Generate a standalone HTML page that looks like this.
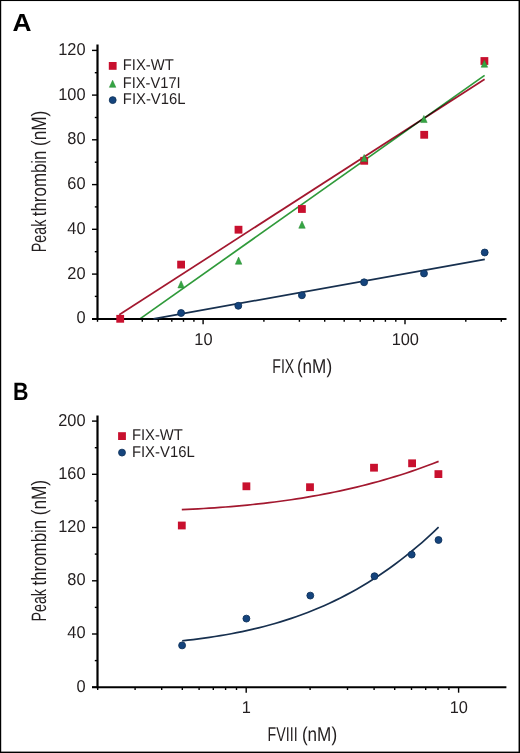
<!DOCTYPE html><html><head><meta charset="utf-8"><style>html,body{margin:0;padding:0;background:#fff}svg{display:block;text-rendering:geometricPrecision;font-family:"Liberation Sans",sans-serif}</style></head><body>
<svg width="520" height="753" viewBox="0 0 520 753" font-family="Liberation Sans, sans-serif">
<rect x="0" y="0" width="520" height="753" fill="#fff"/>
<rect x="0" y="0" width="520" height="1.05" fill="#000"/>
<rect x="0" y="0" width="1.2" height="753" fill="#000"/>
<rect x="518.55" y="0" width="1.45" height="753" fill="#000"/>
<rect x="0" y="751.6" width="520" height="1.4" fill="#000"/>
<text x="12.4" y="30.9" font-size="24.8" font-weight="bold" fill="#000" textLength="19" lengthAdjust="spacingAndGlyphs">A</text>
<line x1="97.5" y1="44.5" x2="97.5" y2="319.8" stroke="#000" stroke-width="2.2"/>
<line x1="92" y1="318.9" x2="506.5" y2="318.9" stroke="#000" stroke-width="2"/>
<line x1="92" y1="318.8" x2="97.5" y2="318.8" stroke="#000" stroke-width="1.4"/>
<text x="85.5" y="323.2" font-size="17.2" fill="#231f20" text-anchor="end" textLength="9.11" lengthAdjust="spacingAndGlyphs">0</text>
<line x1="92" y1="274.1" x2="97.5" y2="274.1" stroke="#000" stroke-width="1.4"/>
<text x="85.5" y="278.5" font-size="17.2" fill="#231f20" text-anchor="end" textLength="18.23" lengthAdjust="spacingAndGlyphs">20</text>
<line x1="92" y1="229.3" x2="97.5" y2="229.3" stroke="#000" stroke-width="1.4"/>
<text x="85.5" y="233.7" font-size="17.2" fill="#231f20" text-anchor="end" textLength="18.23" lengthAdjust="spacingAndGlyphs">40</text>
<line x1="92" y1="184.6" x2="97.5" y2="184.6" stroke="#000" stroke-width="1.4"/>
<text x="85.5" y="189.0" font-size="17.2" fill="#231f20" text-anchor="end" textLength="18.23" lengthAdjust="spacingAndGlyphs">60</text>
<line x1="92" y1="139.8" x2="97.5" y2="139.8" stroke="#000" stroke-width="1.4"/>
<text x="85.5" y="144.2" font-size="17.2" fill="#231f20" text-anchor="end" textLength="18.23" lengthAdjust="spacingAndGlyphs">80</text>
<line x1="92" y1="95.1" x2="97.5" y2="95.1" stroke="#000" stroke-width="1.4"/>
<text x="85.5" y="99.5" font-size="17.2" fill="#231f20" text-anchor="end" textLength="27.34" lengthAdjust="spacingAndGlyphs">100</text>
<line x1="92" y1="50.4" x2="97.5" y2="50.4" stroke="#000" stroke-width="1.4"/>
<text x="85.5" y="54.8" font-size="17.2" fill="#231f20" text-anchor="end" textLength="27.34" lengthAdjust="spacingAndGlyphs">120</text>
<line x1="94.8" y1="296.4" x2="97.5" y2="296.4" stroke="#000" stroke-width="1.4"/>
<line x1="94.8" y1="251.7" x2="97.5" y2="251.7" stroke="#000" stroke-width="1.4"/>
<line x1="94.8" y1="206.9" x2="97.5" y2="206.9" stroke="#000" stroke-width="1.4"/>
<line x1="94.8" y1="162.2" x2="97.5" y2="162.2" stroke="#000" stroke-width="1.4"/>
<line x1="94.8" y1="117.5" x2="97.5" y2="117.5" stroke="#000" stroke-width="1.4"/>
<line x1="94.8" y1="72.7" x2="97.5" y2="72.7" stroke="#000" stroke-width="1.4"/>
<line x1="203.1" y1="318.9" x2="203.1" y2="324.3" stroke="#000" stroke-width="1.4"/>
<text x="203.4" y="345.0" font-size="17.2" fill="#231f20" text-anchor="middle" textLength="18.23" lengthAdjust="spacingAndGlyphs">10</text>
<line x1="405.0" y1="318.9" x2="405.0" y2="324.3" stroke="#000" stroke-width="1.4"/>
<text x="405.3" y="345.0" font-size="17.2" fill="#231f20" text-anchor="middle" textLength="27.34" lengthAdjust="spacingAndGlyphs">100</text>
<line x1="97.5" y1="318.9" x2="97.5" y2="321.8" stroke="#000" stroke-width="1.4"/>
<line x1="122.8" y1="318.9" x2="122.8" y2="321.8" stroke="#000" stroke-width="1.4"/>
<line x1="142.3" y1="318.9" x2="142.3" y2="321.8" stroke="#000" stroke-width="1.4"/>
<line x1="158.3" y1="318.9" x2="158.3" y2="321.8" stroke="#000" stroke-width="1.4"/>
<line x1="171.8" y1="318.9" x2="171.8" y2="321.8" stroke="#000" stroke-width="1.4"/>
<line x1="183.5" y1="318.9" x2="183.5" y2="321.8" stroke="#000" stroke-width="1.4"/>
<line x1="193.9" y1="318.9" x2="193.9" y2="321.8" stroke="#000" stroke-width="1.4"/>
<line x1="263.9" y1="318.9" x2="263.9" y2="321.8" stroke="#000" stroke-width="1.4"/>
<line x1="299.4" y1="318.9" x2="299.4" y2="321.8" stroke="#000" stroke-width="1.4"/>
<line x1="324.7" y1="318.9" x2="324.7" y2="321.8" stroke="#000" stroke-width="1.4"/>
<line x1="344.2" y1="318.9" x2="344.2" y2="321.8" stroke="#000" stroke-width="1.4"/>
<line x1="360.2" y1="318.9" x2="360.2" y2="321.8" stroke="#000" stroke-width="1.4"/>
<line x1="373.7" y1="318.9" x2="373.7" y2="321.8" stroke="#000" stroke-width="1.4"/>
<line x1="385.4" y1="318.9" x2="385.4" y2="321.8" stroke="#000" stroke-width="1.4"/>
<line x1="395.8" y1="318.9" x2="395.8" y2="321.8" stroke="#000" stroke-width="1.4"/>
<line x1="465.8" y1="318.9" x2="465.8" y2="321.8" stroke="#000" stroke-width="1.4"/>
<line x1="501.3" y1="318.9" x2="501.3" y2="321.8" stroke="#000" stroke-width="1.4"/>
<line x1="119.2" y1="314.8" x2="484.6" y2="79.2" stroke="#a3182f" stroke-width="1.7"/>
<line x1="140.3" y1="318.6" x2="484.6" y2="75.4" stroke="#2f9a3a" stroke-width="1.7" style="mix-blend-mode:multiply"/>
<line x1="153.5" y1="318.8" x2="484.8" y2="259.4" stroke="#17304f" stroke-width="1.7"/>
<circle cx="181.1" cy="313.0" r="3.45" fill="#15447d" stroke="#10335c" stroke-width="0.9"/>
<circle cx="238.3" cy="305.8" r="3.45" fill="#15447d" stroke="#10335c" stroke-width="0.9"/>
<circle cx="301.9" cy="295.3" r="3.45" fill="#15447d" stroke="#10335c" stroke-width="0.9"/>
<circle cx="364.1" cy="282.3" r="3.45" fill="#15447d" stroke="#10335c" stroke-width="0.9"/>
<circle cx="424.0" cy="273.5" r="3.45" fill="#15447d" stroke="#10335c" stroke-width="0.9"/>
<circle cx="484.7" cy="252.5" r="3.45" fill="#15447d" stroke="#10335c" stroke-width="0.9"/>
<rect x="116.3" y="314.9" width="7.8" height="7.8" fill="#c8102e"/>
<rect x="177.2" y="260.7" width="7.8" height="7.8" fill="#c8102e"/>
<rect x="234.6" y="225.8" width="7.8" height="7.8" fill="#c8102e"/>
<rect x="298.0" y="205.1" width="7.8" height="7.8" fill="#c8102e"/>
<rect x="360.3" y="156.9" width="7.8" height="7.8" fill="#c8102e"/>
<rect x="420.3" y="130.9" width="7.8" height="7.8" fill="#c8102e"/>
<rect x="480.5" y="57.1" width="7.8" height="7.8" fill="#c8102e"/>
<polygon points="181.10,280.80 177.85,287.95 184.35,287.95" fill="#35a543" stroke="#2b8a37" stroke-width="0.5" stroke-linejoin="miter"/>
<polygon points="238.60,257.10 235.35,264.25 241.85,264.25" fill="#35a543" stroke="#2b8a37" stroke-width="0.5" stroke-linejoin="miter"/>
<polygon points="302.00,221.10 298.75,228.25 305.25,228.25" fill="#35a543" stroke="#2b8a37" stroke-width="0.5" stroke-linejoin="miter"/>
<polygon points="364.20,154.40 360.95,161.55 367.45,161.55" fill="#35a543" stroke="#2b8a37" stroke-width="0.5" stroke-linejoin="miter"/>
<polygon points="423.90,115.40 420.65,122.55 427.15,122.55" fill="#35a543" stroke="#2b8a37" stroke-width="0.5" stroke-linejoin="miter"/>
<polygon points="484.40,60.10 481.15,67.25 487.65,67.25" fill="#35a543" stroke="#2b8a37" stroke-width="0.5" stroke-linejoin="miter"/>
<rect x="108.8" y="62.0" width="7.8" height="7.8" fill="#c8102e"/>
<polygon points="112.60,80.20 109.35,87.35 115.85,87.35" fill="#35a543" stroke="#2b8a37" stroke-width="0.5" stroke-linejoin="miter"/>
<circle cx="112.7" cy="100.1" r="3.45" fill="#15447d" stroke="#10335c" stroke-width="0.9"/>
<text x="122.8" y="70.1" font-size="15.7" fill="#231f20" textLength="51" lengthAdjust="spacingAndGlyphs">FIX-WT</text>
<text x="122.8" y="87.5" font-size="15.7" fill="#231f20" textLength="57.8" lengthAdjust="spacingAndGlyphs">FIX-V17I</text>
<text x="122.8" y="104.1" font-size="15.7" fill="#231f20" textLength="62.8" lengthAdjust="spacingAndGlyphs">FIX-V16L</text>
<g transform="translate(45.90,250.90) rotate(-90)" font-size="20.8" fill="#231f20">
<text x="-1.40" y="0" textLength="32.60" lengthAdjust="spacingAndGlyphs">Peak</text>
<text x="34.70" y="0" textLength="65.70" lengthAdjust="spacingAndGlyphs">thrombin</text>
<text x="104.90" y="0" textLength="35.30" lengthAdjust="spacingAndGlyphs">(nM)</text>
</g>
<text x="272.30" y="372.60" font-size="19.9" fill="#231f20" textLength="22.00" lengthAdjust="spacingAndGlyphs">FIX</text>
<text x="296.90" y="372.60" font-size="19.9" fill="#231f20" textLength="35.20" lengthAdjust="spacingAndGlyphs">(nM)</text>
<text x="13.1" y="400.4" font-size="25" font-weight="bold" fill="#000" textLength="15.5" lengthAdjust="spacingAndGlyphs">B</text>
<line x1="97.5" y1="415.4" x2="97.5" y2="688.2" stroke="#000" stroke-width="2.2"/>
<line x1="92" y1="687.2" x2="506.4" y2="687.2" stroke="#000" stroke-width="2"/>
<line x1="92" y1="687.2" x2="97.5" y2="687.2" stroke="#000" stroke-width="1.4"/>
<text x="85.5" y="691.6" font-size="17.2" fill="#231f20" text-anchor="end" textLength="9.11" lengthAdjust="spacingAndGlyphs">0</text>
<line x1="92" y1="634.0" x2="97.5" y2="634.0" stroke="#000" stroke-width="1.4"/>
<text x="85.5" y="638.4" font-size="17.2" fill="#231f20" text-anchor="end" textLength="18.23" lengthAdjust="spacingAndGlyphs">40</text>
<line x1="92" y1="580.8" x2="97.5" y2="580.8" stroke="#000" stroke-width="1.4"/>
<text x="85.5" y="585.2" font-size="17.2" fill="#231f20" text-anchor="end" textLength="18.23" lengthAdjust="spacingAndGlyphs">80</text>
<line x1="92" y1="527.5" x2="97.5" y2="527.5" stroke="#000" stroke-width="1.4"/>
<text x="85.5" y="531.9" font-size="17.2" fill="#231f20" text-anchor="end" textLength="27.34" lengthAdjust="spacingAndGlyphs">120</text>
<line x1="92" y1="474.3" x2="97.5" y2="474.3" stroke="#000" stroke-width="1.4"/>
<text x="85.5" y="478.7" font-size="17.2" fill="#231f20" text-anchor="end" textLength="27.34" lengthAdjust="spacingAndGlyphs">160</text>
<line x1="92" y1="421.1" x2="97.5" y2="421.1" stroke="#000" stroke-width="1.4"/>
<text x="85.5" y="425.5" font-size="17.2" fill="#231f20" text-anchor="end" textLength="27.34" lengthAdjust="spacingAndGlyphs">200</text>
<line x1="94.8" y1="660.6" x2="97.5" y2="660.6" stroke="#000" stroke-width="1.4"/>
<line x1="94.8" y1="607.4" x2="97.5" y2="607.4" stroke="#000" stroke-width="1.4"/>
<line x1="94.8" y1="554.1" x2="97.5" y2="554.1" stroke="#000" stroke-width="1.4"/>
<line x1="94.8" y1="500.9" x2="97.5" y2="500.9" stroke="#000" stroke-width="1.4"/>
<line x1="94.8" y1="447.7" x2="97.5" y2="447.7" stroke="#000" stroke-width="1.4"/>
<line x1="246.2" y1="687.2" x2="246.2" y2="692.7" stroke="#000" stroke-width="1.4"/>
<text x="246.4" y="713.0" font-size="17.2" fill="#231f20" text-anchor="middle" textLength="9.11" lengthAdjust="spacingAndGlyphs">1</text>
<line x1="458.6" y1="687.2" x2="458.6" y2="692.7" stroke="#000" stroke-width="1.4"/>
<text x="458.8" y="713.0" font-size="17.2" fill="#231f20" text-anchor="middle" textLength="18.23" lengthAdjust="spacingAndGlyphs">10</text>
<line x1="97.7" y1="687.2" x2="97.7" y2="690" stroke="#000" stroke-width="1.4"/>
<line x1="135.1" y1="687.2" x2="135.1" y2="690" stroke="#000" stroke-width="1.4"/>
<line x1="161.7" y1="687.2" x2="161.7" y2="690" stroke="#000" stroke-width="1.4"/>
<line x1="182.3" y1="687.2" x2="182.3" y2="690" stroke="#000" stroke-width="1.4"/>
<line x1="199.1" y1="687.2" x2="199.1" y2="690" stroke="#000" stroke-width="1.4"/>
<line x1="213.3" y1="687.2" x2="213.3" y2="690" stroke="#000" stroke-width="1.4"/>
<line x1="225.6" y1="687.2" x2="225.6" y2="690" stroke="#000" stroke-width="1.4"/>
<line x1="236.5" y1="687.2" x2="236.5" y2="690" stroke="#000" stroke-width="1.4"/>
<line x1="310.1" y1="687.2" x2="310.1" y2="690" stroke="#000" stroke-width="1.4"/>
<line x1="347.5" y1="687.2" x2="347.5" y2="690" stroke="#000" stroke-width="1.4"/>
<line x1="374.1" y1="687.2" x2="374.1" y2="690" stroke="#000" stroke-width="1.4"/>
<line x1="394.7" y1="687.2" x2="394.7" y2="690" stroke="#000" stroke-width="1.4"/>
<line x1="411.5" y1="687.2" x2="411.5" y2="690" stroke="#000" stroke-width="1.4"/>
<line x1="425.7" y1="687.2" x2="425.7" y2="690" stroke="#000" stroke-width="1.4"/>
<line x1="438.0" y1="687.2" x2="438.0" y2="690" stroke="#000" stroke-width="1.4"/>
<line x1="448.9" y1="687.2" x2="448.9" y2="690" stroke="#000" stroke-width="1.4"/>
<path d="M181.80,509.65 L187.26,509.39 L192.73,509.12 L198.19,508.82 L203.66,508.50 L209.12,508.16 L214.58,507.80 L220.05,507.41 L225.51,506.99 L230.97,506.56 L236.44,506.09 L241.90,505.59 L247.37,505.07 L252.83,504.52 L258.29,503.93 L263.76,503.32 L269.22,502.67 L274.69,501.99 L280.15,501.27 L285.61,500.52 L291.08,499.73 L296.54,498.91 L302.00,498.04 L307.47,497.14 L312.93,496.20 L318.40,495.22 L323.86,494.19 L329.32,493.12 L334.79,492.01 L340.25,490.86 L345.71,489.66 L351.18,488.41 L356.64,487.12 L362.11,485.77 L367.57,484.38 L373.03,482.94 L378.50,481.45 L383.96,479.90 L389.43,478.30 L394.89,476.65 L400.35,474.95 L405.82,473.19 L411.28,471.37 L416.74,469.50 L422.21,467.56 L427.67,465.57 L433.14,463.52 L438.60,461.40" fill="none" stroke="#a3182f" stroke-width="1.7" stroke-linejoin="round"/>
<path d="M182.20,640.80 L187.66,640.19 L193.11,639.54 L198.57,638.85 L204.02,638.12 L209.48,637.35 L214.93,636.53 L220.39,635.65 L225.84,634.72 L231.30,633.74 L236.75,632.69 L242.21,631.59 L247.66,630.42 L253.12,629.18 L258.57,627.87 L264.03,626.49 L269.49,625.03 L274.94,623.49 L280.40,621.87 L285.85,620.17 L291.31,618.38 L296.76,616.51 L302.22,614.54 L307.67,612.47 L313.13,610.31 L318.58,608.04 L324.04,605.68 L329.49,603.20 L334.95,600.62 L340.40,597.93 L345.86,595.12 L351.31,592.19 L356.77,589.15 L362.23,585.98 L367.68,582.69 L373.14,579.27 L378.59,575.72 L384.05,572.03 L389.50,568.21 L394.96,564.25 L400.41,560.15 L405.87,555.91 L411.32,551.51 L416.78,546.97 L422.23,542.27 L427.69,537.42 L433.14,532.41 L438.60,527.24" fill="none" stroke="#17304f" stroke-width="1.7" stroke-linejoin="round"/>
<rect x="177.9" y="521.6" width="7.8" height="7.8" fill="#c8102e"/>
<rect x="242.5" y="482.4" width="7.8" height="7.8" fill="#c8102e"/>
<rect x="306.1" y="483.3" width="7.8" height="7.8" fill="#c8102e"/>
<rect x="370.1" y="463.8" width="7.8" height="7.8" fill="#c8102e"/>
<rect x="408.2" y="459.4" width="7.8" height="7.8" fill="#c8102e"/>
<rect x="434.5" y="470.2" width="7.8" height="7.8" fill="#c8102e"/>
<circle cx="182.1" cy="645.4" r="3.45" fill="#15447d" stroke="#10335c" stroke-width="0.9"/>
<circle cx="246.4" cy="618.6" r="3.45" fill="#15447d" stroke="#10335c" stroke-width="0.9"/>
<circle cx="310.3" cy="595.6" r="3.45" fill="#15447d" stroke="#10335c" stroke-width="0.9"/>
<circle cx="374.5" cy="576.2" r="3.45" fill="#15447d" stroke="#10335c" stroke-width="0.9"/>
<circle cx="411.7" cy="554.6" r="3.45" fill="#15447d" stroke="#10335c" stroke-width="0.9"/>
<circle cx="438.5" cy="540.0" r="3.45" fill="#15447d" stroke="#10335c" stroke-width="0.9"/>
<rect x="118.1" y="432.2" width="7.8" height="7.8" fill="#c8102e"/>
<circle cx="122.0" cy="452.6" r="3.45" fill="#15447d" stroke="#10335c" stroke-width="0.9"/>
<text x="131.9" y="440" font-size="15.7" fill="#231f20" textLength="51" lengthAdjust="spacingAndGlyphs">FIX-WT</text>
<text x="131.9" y="456.7" font-size="15.7" fill="#231f20" textLength="62.8" lengthAdjust="spacingAndGlyphs">FIX-V16L</text>
<g transform="translate(45.90,620.20) rotate(-90)" font-size="20.8" fill="#231f20">
<text x="-1.40" y="0" textLength="32.60" lengthAdjust="spacingAndGlyphs">Peak</text>
<text x="34.70" y="0" textLength="65.70" lengthAdjust="spacingAndGlyphs">thrombin</text>
<text x="104.90" y="0" textLength="35.30" lengthAdjust="spacingAndGlyphs">(nM)</text>
</g>
<text x="267.60" y="740.90" font-size="19.9" fill="#231f20" textLength="30.00" lengthAdjust="spacingAndGlyphs">FVIII</text>
<text x="301.90" y="740.90" font-size="19.9" fill="#231f20" textLength="35.20" lengthAdjust="spacingAndGlyphs">(nM)</text>
</svg></body></html>
